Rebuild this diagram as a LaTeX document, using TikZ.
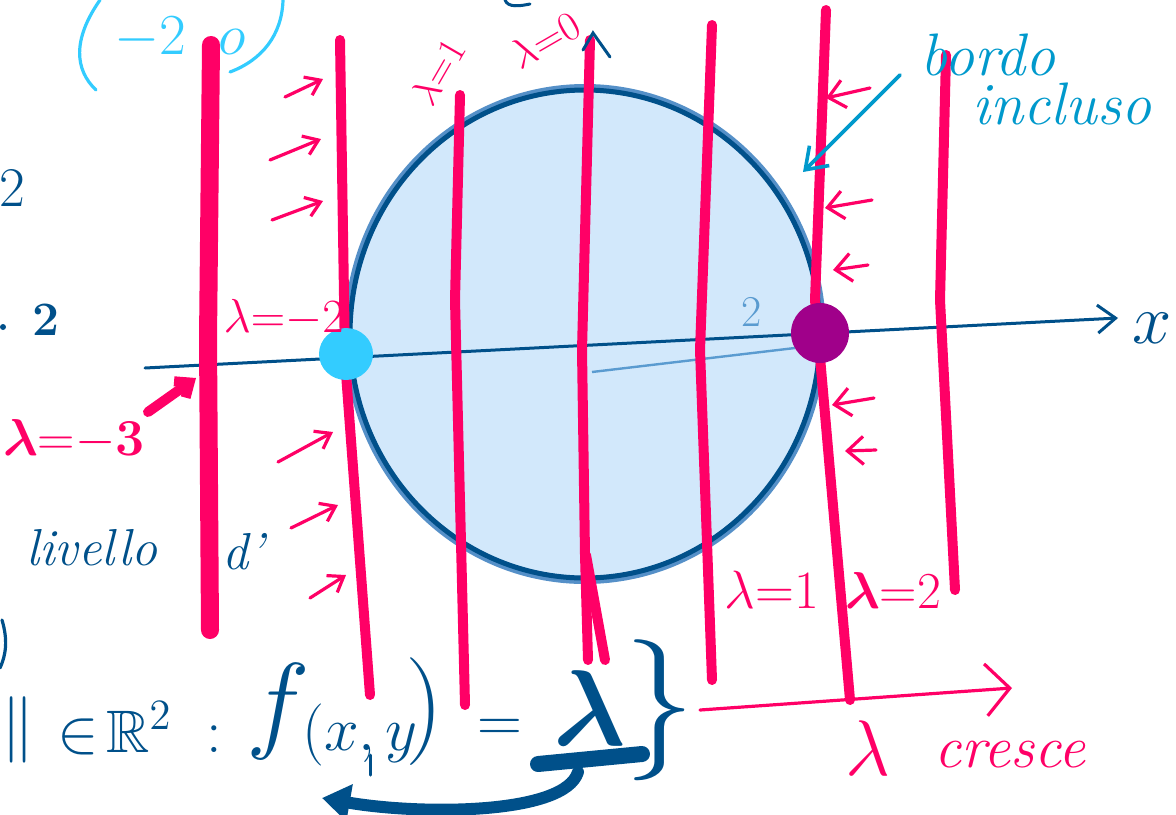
\documentclass[tikz,border=0pt]{standalone}
\usepackage{amssymb}
\usepackage{amsmath}
\usetikzlibrary{arrows.meta}
\definecolor{lvpink}{HTML}{FF0066}
\definecolor{dblue}{HTML}{00508A}
\definecolor{lcyan}{HTML}{33CCFF}
\definecolor{mcyan}{HTML}{0099CC}
\definecolor{circfill}{HTML}{D2E8FB}
\definecolor{lvpurple}{HTML}{A0008A}
\definecolor{inblue}{HTML}{5A9BD0}
\definecolor{rimblue}{HTML}{5590C8}
\tikzset{
  lvline/.style={draw=lvpink, line width=5pt, line cap=round, line join=round},
  smallarr/.style={draw=lvpink, line width=1.6pt, line cap=round, -{Straight Barb[length=7pt,width=10pt]}},
  leftarr/.style={draw=lvpink, line width=1.6pt, line cap=round, -{Straight Barb[length=8pt,width=14pt]}},
  pinktxt/.style={text=lvpink, inner sep=0pt, font=\fontsize{20}{22}\selectfont},
  bluetxt/.style={text=dblue, inner sep=0pt, font=\fontsize{20}{22}\selectfont},
  cyantxt/.style={text=mcyan, inner sep=0pt, font=\fontsize{30}{32}\selectfont\itshape},
}
\begin{document}
\begin{tikzpicture}[x=0.5pt,y=-0.5pt]
\useasboundingbox (0,0) rectangle (1176,814);
% disc
\draw[fill=circfill, draw=rimblue, line width=4pt] (585,334) ellipse [x radius=237, y radius=246];
\draw[dblue, line width=2.5pt] (585,334) ellipse [x radius=235, y radius=244];
% x axis
\coordinate (xs) at (145,368);
\coordinate (xe) at (1118,318);
\draw[dblue, line width=1.5pt, line cap=round, -{Straight Barb[length=9pt,width=14pt]}] (xs) -- (xe);
\draw[inblue, line width=1.2pt] (592,372) -- (795,348);
\node[bluetxt, scale=1.7] (xlab) at (1152,328) {$x$};
% level lines
\draw[lvline, line width=9pt] (211,45) -- (208,340) -- (210,630);
\draw[lvline] (340,40) -- (345,360) -- (370,695);
\draw[lvline] (460,95) -- (455,300) -- (465,705);
\draw[lvline] (590,40) -- (582,350) -- (585,555) -- (588,660);
\draw[lvline] (586,555) -- (605,660);
\draw[lvline] (712,25) -- (700,350) -- (712,680);
\draw[lvline] (826,10) -- (815,300) -- (850,700);
\draw[lvline] (946,55) -- (940,300) -- (955,590);
% contact points
\fill[lcyan] (346,354) ellipse [x radius=27, y radius=26];
\fill[lvpurple] (820,333) ellipse [x radius=29, y radius=30];
% small arrows toward lambda=-2
\coordinate (a1s) at (285,97);  \coordinate (a1e) at (323,79);
\coordinate (a2s) at (270,160); \coordinate (a2e) at (321,139);
\coordinate (a3s) at (272,220); \coordinate (a3e) at (323,201);
\coordinate (a4s) at (278,462); \coordinate (a4e) at (333,432);
\coordinate (a5s) at (291,528); \coordinate (a5e) at (338,505);
\coordinate (a6s) at (310,598); \coordinate (a6e) at (346,575);
\foreach \n in {1,...,6} \draw[smallarr] (a\n s) -- (a\n e);
% small arrows toward lambda=2
\coordinate (b1s) at (870,88);  \coordinate (b1e) at (826,98);
\coordinate (b2s) at (872,200); \coordinate (b2e) at (825,208);
\coordinate (b3s) at (868,265); \coordinate (b3e) at (833,270);
\coordinate (b4s) at (874,398); \coordinate (b4e) at (832,405);
\coordinate (b5s) at (876,450); \coordinate (b5e) at (845,451);
\foreach \n in {1,...,5} \draw[leftarr] (b\n s) -- (b\n e);
% labels on lines
\node[pinktxt, scale=1.15] (lm2) at (284,318) {$\lambda{=}{-}2$};
\node[pinktxt, scale=1.25] (lm3) at (74,440) {$\boldsymbol{\lambda}\mathbf{{=}{-}3}$};
\coordinate (lm3a) at (148,412);
\coordinate (lm3b) at (196,378);
\draw[lvpink, line width=5pt, line cap=round, -{Straight Barb[length=6pt,width=10pt]}] (lm3a) -- (lm3b);
\node[pinktxt, rotate=60, scale=0.95] (lp1top) at (438,72) {$\lambda{=}1$};
\node[pinktxt, rotate=30] (l0) at (545,40) {$\lambda{=}0$};
\draw[dblue, line width=1.5pt, line cap=round] (583,50) -- (593,33) -- (610,57);
\node[pinktxt, scale=1.3] (l1) at (772,590) {$\lambda{=}1$};
\node[pinktxt, scale=1.25] (l2) at (893,590) {$\boldsymbol{\lambda}{=}2$};
% lambda cresce
\coordinate (cs) at (700,710);
\coordinate (ce) at (1012,688);
\draw[lvpink, line width=1.6pt, line cap=round, -{Straight Barb[length=12pt,width=26pt]}] (cs) -- (ce);
\node[pinktxt, scale=1.9] (lc) at (868,748) {$\lambda$};
\node[pinktxt, font=\fontsize{30}{32}\selectfont\itshape] (cre) at (1010,755) {cresce};
% bordo incluso
\node[cyantxt] (bordo) at (988,55) {bordo};
\node[cyantxt] (incl) at (1062,104) {incluso};
\coordinate (bi1) at (900,75);
\coordinate (bi2) at (803,172);
\draw[mcyan, line width=1.8pt, line cap=round, -{Straight Barb[length=10pt,width=14pt]}] (bi1) -- (bi2);
% top-left point (-2,0)
\node[text=lcyan, inner sep=0pt, font=\fontsize{20}{22}\selectfont, scale=1.4] (pt) at (180,38) {$-2\;\;o$};
\draw[lcyan, line width=1.6pt, line cap=round] (100,0) .. controls (72,40) and (75,70) .. (96,90);
\draw[lcyan, line width=1.6pt, line cap=round] (283,0) .. controls (282,35) and (262,60) .. (230,72);
\draw[dblue, line width=1.5pt, line cap=round] (505,0) .. controls (508,8) and (520,6) .. (530,4);
% left side text
\node[bluetxt, scale=1.4] (t2a) at (12,188) {2};
\node[bluetxt, scale=1.2, font=\fontsize{20}{22}\selectfont\bfseries] (t2b) at (46,320) {2};
\fill[dblue] (3,327) circle (3);
\node[bluetxt, font=\fontsize{26}{28}\selectfont\itshape] (liv) at (92,548) {livello};
\node[bluetxt, font=\fontsize{26}{28}\selectfont\itshape] (dd) at (243,552) {d'};
\draw[dblue, line width=1.6pt, line cap=round] (2,620) .. controls (8,640) and (6,655) .. (0,668);
\node[text=inblue, inner sep=0pt, font=\fontsize{22}{24}\selectfont] (in2) at (752,312) {2};
% bottom formula
\node[bluetxt, scale=1.6] (bars) at (18,730) {$\|$};
\node[bluetxt, scale=1.5] (inR) at (140,728) {$\in\!\mathbb{R}^2\;:$};
\node[bluetxt, scale=2.6] (ff) at (278,712) {$f$};
\node[bluetxt, scale=1.5] (xy) at (360,735) {$(x,y$};
\node[bluetxt, scale=2.6] (rp) at (425,712) {$)$};
\node[bluetxt, scale=1.5] (eq) at (500,730) {$=$};
\node[bluetxt, scale=2.6] (lam) at (590,708) {$\boldsymbol{\lambda}$};
\draw[dblue, line width=8pt, line cap=round] (538,764) -- (642,754);
\node[bluetxt, scale=3.4] (br) at (660,710) {$\}$};
\coordinate (ca) at (578,772);
\coordinate (cb) at (322,798);
\draw[dblue, line width=6pt, line cap=round, -{Triangle[length=14pt,width=18pt]}] (ca) .. controls (565,815) and (420,815) .. (cb);
\draw[dblue, line width=1.5pt, line cap=round] (370,755) -- (370,775);
\end{tikzpicture}
\end{document}
